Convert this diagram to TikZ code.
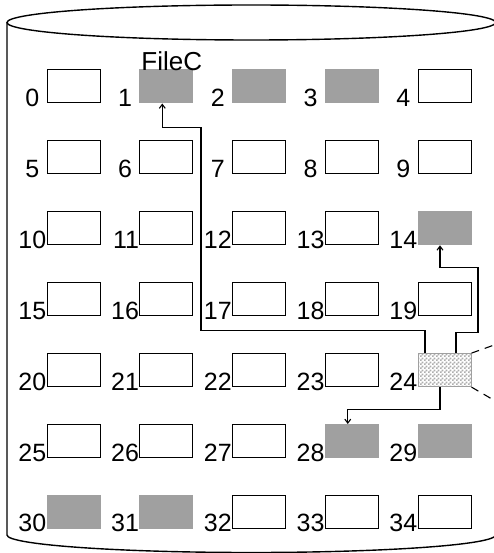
\documentclass[tikz,border=0pt]{standalone}
\usepackage{fontspec}
\newfontfamily\arialfont{Liberation Sans}
\usepackage{tikz}
\usetikzlibrary{arrows.meta, patterns, calc}
\definecolor{blockgray}{HTML}{A0A0A0}
\pgfdeclarepatternformonly{finechecker}{\pgfqpoint{0pt}{0pt}}{\pgfqpoint{4pt}{4pt}}{\pgfqpoint{4pt}{4pt}}{
  \pgfpathrectangle{\pgfpointorigin}{\pgfqpoint{2pt}{2pt}}
  \pgfpathrectangle{\pgfqpoint{2pt}{2pt}}{\pgfqpoint{2pt}{2pt}}
  \pgfusepath{fill}
}
\newcommand{\gap}{\kern7pt}
\tikzset{
  slot/.style={
    draw=black, line width=1pt, fill=white, inner sep=0pt,
    minimum width=53pt, minimum height=33pt
  },
  slotused/.style={
    slot, draw=blockgray, fill=blockgray
  },
  slotmixed/.style={
    slot, draw=blockgray, pattern=finechecker, pattern color=blockgray!85
  },
  numlabel/.style={
    font=\arialfont\fontsize{25}{25}\selectfont, inner sep=0pt,
    anchor=base east, yshift=-3pt
  },
  filelabel/.style={
    font=\arialfont\fontsize{26}{26}\selectfont, inner sep=0pt,
    anchor=base west, xshift=2pt, yshift=-1pt
  },
  drumline/.style={line width=1.4pt},
  linkarrow/.style={-{Straight Barb[length=4pt, width=6pt]}, line width=1.1pt},
  zoomline/.style={line width=1.1pt, dash pattern=on 8pt off 6pt},
}

\begin{document}
\begin{tikzpicture}[x=1pt, y=-1pt]
  \useasboundingbox (0,0) rectangle (493,553);

  % === Drum ===
  \draw[drumline] (251.25,22.5) ellipse [x radius=244.25pt, y radius=17.5pt];
  \draw[drumline] (7,22.5) -- (7,535)
    arc[start angle=180, end angle=360, x radius=244.25pt, y radius=17.5pt] -- (495.5,22.5);

  % === Blocks, row 0 ===
  \node[slot, label={[numlabel]south west:{0\gap}}] (b0) at (73.5,86.5) {};
  \node[slotused, label={[numlabel]south west:{1\gap}}, label={[filelabel]north west:FileC}] (b1) at (166.25,86.5) {};
  \node[slotused, label={[numlabel]south west:{2\gap}}] (b2) at (259,86.5) {};
  \node[slotused, label={[numlabel]south west:{3\gap}}] (b3) at (351.75,86.5) {};
  \node[slot, label={[numlabel]south west:{4\gap}}] (b4) at (444.5,86.5) {};

  % === Row 1 ===
  \node[slot, label={[numlabel]south west:{5\gap}}] (b5) at (73.5,157.4) {};
  \node[slot, label={[numlabel]south west:{6\gap}}] (b6) at (166.25,157.4) {};
  \node[slot, label={[numlabel]south west:{7\gap}}] (b7) at (259,157.4) {};
  \node[slot, label={[numlabel]south west:{8\gap}}] (b8) at (351.75,157.4) {};
  \node[slot, label={[numlabel]south west:{9\gap}}] (b9) at (444.5,157.4) {};

  % === Row 2 ===
  \node[slot, label={[numlabel]south west:10}] (b10) at (73.5,228.3) {};
  \node[slot, label={[numlabel]south west:11}] (b11) at (166.25,228.3) {};
  \node[slot, label={[numlabel]south west:12}] (b12) at (259,228.3) {};
  \node[slot, label={[numlabel]south west:13}] (b13) at (351.75,228.3) {};
  \node[slotused, label={[numlabel]south west:14}] (b14) at (444.5,228.3) {};

  % === Row 3 ===
  \node[slot, label={[numlabel]south west:15}] (b15) at (73.5,299.2) {};
  \node[slot, label={[numlabel]south west:16}] (b16) at (166.25,299.2) {};
  \node[slot, label={[numlabel]south west:17}] (b17) at (259,299.2) {};
  \node[slot, label={[numlabel]south west:18}] (b18) at (351.75,299.2) {};
  \node[slot, label={[numlabel]south west:19}] (b19) at (444.5,299.2) {};

  % === Row 4 ===
  \node[slot, label={[numlabel]south west:20}] (b20) at (73.5,370.1) {};
  \node[slot, label={[numlabel]south west:21}] (b21) at (166.25,370.1) {};
  \node[slot, label={[numlabel]south west:22}] (b22) at (259,370.1) {};
  \node[slot, label={[numlabel]south west:23}] (b23) at (351.75,370.1) {};
  \node[slotmixed, label={[numlabel]south west:24}] (b24) at (444.5,370.1) {};

  % === Row 5 ===
  \node[slot, label={[numlabel]south west:25}] (b25) at (73.5,441) {};
  \node[slot, label={[numlabel]south west:26}] (b26) at (166.25,441) {};
  \node[slot, label={[numlabel]south west:27}] (b27) at (259,441) {};
  \node[slotused, label={[numlabel]south west:28}] (b28) at (351.75,441) {};
  \node[slotused, label={[numlabel]south west:29}] (b29) at (444.5,441) {};

  % === Row 6 ===
  \node[slotused, label={[numlabel]south west:30}] (b30) at (73.5,511.9) {};
  \node[slotused, label={[numlabel]south west:31}] (b31) at (166.25,511.9) {};
  \node[slot, label={[numlabel]south west:32}] (b32) at (259,511.9) {};
  \node[slot, label={[numlabel]south west:33}] (b33) at (351.75,511.9) {};
  \node[slot, label={[numlabel]south west:34}] (b34) at (444.5,511.9) {};

  % === Pointers out of block 24 ===
  \draw[linkarrow] ([xshift=-19.5pt]b24.north) -- ++(0,-23) -| ++(-224,-203) -| ([xshift=-4pt]b1.south);
  \draw[linkarrow] ([xshift=11.5pt]b24.north) -- ++(0,-21) -| ++(22,-65) -| ([xshift=-4.5pt]b14.south);
  \draw[linkarrow] ([xshift=-4.5pt]b24.south) -- ++(0,22) -| ([xshift=-4pt]b28.north);

  % === Zoom lines ===
  \coordinate (zoomtop) at (497,344);
  \coordinate (zoombot) at (497,402);
  \draw[zoomline] (b24.north east) -- (zoomtop);
  \draw[zoomline] (b24.south east) -- (zoombot);

\end{tikzpicture}
\end{document}
